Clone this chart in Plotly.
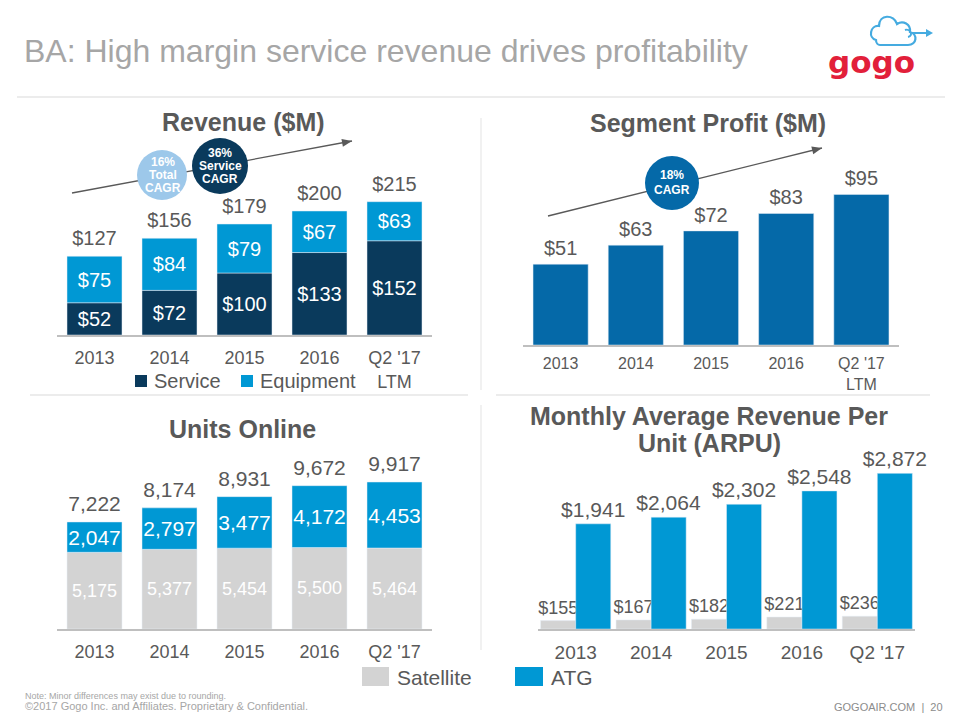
import math
import plotly.graph_objects as go

# ---------------- data ----------------
rev_years = ["2013", "2014", "2015", "2016", "Q2 '17<br>LTM"]
service_rev = [52, 72, 100, 133, 152]
equipment_rev = [75, 84, 79, 67, 63]
total_rev = [127, 156, 179, 200, 215]

seg_years = ["2013", "2014", "2015", "2016", "Q2 '17<br>LTM"]
segment_profit = [51, 63, 72, 83, 95]

unit_years = ["2013", "2014", "2015", "2016", "Q2 '17"]
satellite_units = [5175, 5377, 5454, 5500, 5464]
atg_units = [2047, 2797, 3477, 4172, 4453]
total_units = [7222, 8174, 8931, 9672, 9917]

arpu_years = ["2013", "2014", "2015", "2016", "Q2 '17"]
arpu_satellite = [155, 167, 182, 221, 236]
arpu_atg = [1941, 2064, 2302, 2548, 2872]

# ---------------- styles ----------------
FONT = "Liberation Sans, Arial, sans-serif"
GRAY_TXT = "#595959"
NAVY = "#0A3A5C"
BLUE = "#0098D4"
SEG_BLUE = "#0569A8"
SAT_GRAY = "#D3D3D3"
LIGHT_CIRCLE = "#9DC8EA"
LINE_GRAY = "#D9D9D9"

W, H = 960, 720
OFF = 8  # page body margin compensation


def px(x):
    return (x - OFF) / W


def py(y):
    return 1 - (y - OFF) / H


fig = go.Figure()

# ---------- Revenue ----------
fig.add_trace(go.Bar(x=rev_years, y=service_rev, marker_color=NAVY,
                     text=[f"${v}" for v in service_rev], textposition="inside",
                     insidetextanchor="middle", textangle=0, constraintext="none",
                     textfont=dict(color="white", size=20), xaxis="x", yaxis="y"))
fig.add_trace(go.Bar(x=rev_years, y=equipment_rev, base=service_rev, marker_color=BLUE,
                     text=[f"${v}" for v in equipment_rev], textposition="inside",
                     insidetextanchor="middle", textangle=0, constraintext="none",
                     textfont=dict(color="white", size=20), xaxis="x", yaxis="y"))
fig.add_trace(go.Scatter(x=rev_years, y=total_rev, mode="markers+text",
                         marker=dict(size=8, opacity=0),
                         text=[f"${v}" for v in total_rev], textposition="top center",
                         textfont=dict(color=GRAY_TXT, size=20), cliponaxis=False,
                         xaxis="x", yaxis="y"))

# ---------- Segment profit ----------
fig.add_trace(go.Bar(x=seg_years, y=segment_profit, marker_color=SEG_BLUE,
                     xaxis="x2", yaxis="y2"))
fig.add_trace(go.Scatter(x=seg_years, y=segment_profit, mode="markers+text",
                         marker=dict(size=5, opacity=0),
                         text=[f"${v}" for v in segment_profit], textposition="top center",
                         textfont=dict(color=GRAY_TXT, size=20), cliponaxis=False,
                         xaxis="x2", yaxis="y2"))

# ---------- Units online ----------
fig.add_trace(go.Bar(x=unit_years, y=satellite_units, marker_color=SAT_GRAY,
                     text=[f"{v:,}" for v in satellite_units], textposition="inside",
                     insidetextanchor="middle", textangle=0, constraintext="none",
                     textfont=dict(color="white", size=18), xaxis="x3", yaxis="y3"))
fig.add_trace(go.Bar(x=unit_years, y=atg_units, base=satellite_units, marker_color=BLUE,
                     text=[f"{v:,}" for v in atg_units], textposition="inside",
                     insidetextanchor="middle", textangle=0, constraintext="none",
                     textfont=dict(color="white", size=21), xaxis="x3", yaxis="y3"))
fig.add_trace(go.Scatter(x=unit_years, y=total_units, mode="markers+text",
                         marker=dict(size=7, opacity=0),
                         text=[f"{v:,}" for v in total_units], textposition="top center",
                         textfont=dict(color=GRAY_TXT, size=21), cliponaxis=False,
                         xaxis="x3", yaxis="y3"))

# ---------- ARPU ----------
bw = 0.465
fig.add_trace(go.Bar(x=arpu_years, y=arpu_satellite, marker_color=SAT_GRAY,
                     width=bw, offset=-bw,
                     text=[f"${v:,}" for v in arpu_satellite], textposition="outside",
                     textangle=0, constraintext="none", cliponaxis=False,
                     textfont=dict(color=GRAY_TXT, size=18), xaxis="x4", yaxis="y4"))
fig.add_trace(go.Bar(x=arpu_years, y=arpu_atg, marker_color=BLUE,
                     width=bw, offset=0,
                     text=[f"${v:,}" for v in arpu_atg], textposition="outside",
                     textangle=0, constraintext="none", cliponaxis=False,
                     textfont=dict(color=GRAY_TXT, size=21), xaxis="x4", yaxis="y4"))


def xax(x0, x1, size, standoff):
    return dict(domain=[px(x0), px(x1)], type="category", showgrid=False, zeroline=False,
                showline=True, linecolor="#BFBFBF", linewidth=1.5, ticks="",
                ticklabelstandoff=standoff, fixedrange=True,
                tickfont=dict(size=size, color=GRAY_TXT, family=FONT))


def yax(base_px, top_px, scale):
    return dict(domain=[py(base_px), py(top_px)], range=[0, (base_px - top_px) / scale],
                visible=False, fixedrange=True)


fig.update_layout(
    width=W, height=H, margin=dict(l=0, r=0, t=0, b=0), autosize=False,
    paper_bgcolor="white", plot_bgcolor="white", showlegend=False,
    barmode="overlay", bargap=0.2667,
    font=dict(family=FONT, color=GRAY_TXT),
    xaxis=dict(**xax(57, 432, 18, 6), anchor="y"),
    yaxis=dict(**yax(335, 150, 0.62), anchor="x"),
    xaxis2=dict(**xax(523, 899, 16, 3), anchor="y2"),
    yaxis2=dict(**yax(345, 150, 1.585), anchor="x2"),
    xaxis3=dict(**xax(57, 432, 18, 6), anchor="y3"),
    yaxis3=dict(**yax(629, 440, 0.01482), anchor="x3"),
    xaxis4=dict(**xax(538, 915, 19, 5), anchor="y4"),
    yaxis4=dict(**yax(629, 440, 0.0542), anchor="x4"),
    hovermode=False,
)

shapes = []
ann = []


def text(x, y, s, size, color=GRAY_TXT, bold=False, xanchor="center", yanchor="middle"):
    ann.append(dict(xref="paper", yref="paper", x=px(x), y=py(y), text=(f"<b>{s}</b>" if bold else s),
                    showarrow=False, xanchor=xanchor, yanchor=yanchor,
                    font=dict(size=size, color=color, family=FONT)))


def line(x0, y0, x1, y1, color=LINE_GRAY, width=1):
    shapes.append(dict(type="line", xref="paper", yref="paper", x0=px(x0), y0=py(y0),
                       x1=px(x1), y1=py(y1), line=dict(color=color, width=width)))


def rect(x0, y0, x1, y1, color):
    shapes.append(dict(type="rect", xref="paper", yref="paper", x0=px(x0), y0=py(y0),
                       x1=px(x1), y1=py(y1), line=dict(width=0), fillcolor=color))


def circle(cx, cy, r, color):
    shapes.append(dict(type="circle", xref="paper", yref="paper", x0=px(cx - r), y0=py(cy + r),
                       x1=px(cx + r), y1=py(cy - r), line=dict(width=0), fillcolor=color))


def arrow(x0, y0, x1, y1, color="#595959"):
    line(x0, y0, x1, y1, color, 1.3)
    ang = math.atan2(y1 - y0, x1 - x0)
    L, Wd = 10, 4
    bx, by = x1 - L * math.cos(ang), y1 - L * math.sin(ang)
    nx, ny = -math.sin(ang), math.cos(ang)
    pts = [(x1, y1), (bx + Wd * nx, by + Wd * ny), (bx - Wd * nx, by - Wd * ny)]
    path = "M " + " L ".join(f"{px(a)},{py(b)}" for a, b in pts) + " Z"
    shapes.append(dict(type="path", xref="paper", yref="paper", path=path,
                       fillcolor=color, line=dict(width=0)))


# header
text(22, 51, "BA: High margin service revenue drives profitability", 32, "#A6A6A6", xanchor="left")
line(17, 97, 945, 97, "#D9D9D9", 1.2)

# logo
cloud = [("M", 880, 45), ("L", 908, 45), ("C", 917, 45, 918, 34, 910, 32),
         ("C", 911, 24, 903, 20, 897, 24), ("C", 894, 14, 879, 14, 879, 26),
         ("C", 870, 25, 868, 38, 876, 40), ("C", 876, 43, 878, 45, 880, 45)]
p = ""
for seg in cloud:
    cmd, pts = seg[0], seg[1:]
    coords = " ".join(f"{px(pts[i])},{py(pts[i + 1])}" for i in range(0, len(pts), 2))
    p += f"{cmd} {coords} "
shapes.append(dict(type="path", xref="paper", yref="paper", path=p,
                   line=dict(color="#45ABE0", width=2.2)))
shapes.append(dict(type="path", xref="paper", yref="paper",
                   path=f"M {px(905)},{py(30)} C {px(910)},{py(28)} {px(914)},{py(36)} {px(908)},{py(37)} "
                        f"M {px(912)},{py(33)} L {px(928)},{py(33)}",
                   line=dict(color="#45ABE0", width=2)))
shapes.append(dict(type="path", xref="paper", yref="paper",
                   path=f"M {px(933)},{py(33)} L {px(926)},{py(29)} L {px(926)},{py(37)} Z",
                   fillcolor="#45ABE0", line=dict(width=0)))
ann.append(dict(xref="paper", yref="paper", x=px(871), y=py(62), text="<b>gogo</b>", showarrow=False,
                xanchor="center", yanchor="middle",
                font=dict(size=31, color="#E2203A", family="DejaVu Sans, sans-serif")))

# section dividers
line(481, 118, 481, 390, "#E3E3E3", 1)
line(481, 405, 481, 650, "#E3E3E3", 1)
line(30, 395, 468, 395, "#D9D9D9", 1)
line(496, 395, 930, 395, "#D9D9D9", 1)

# chart titles
text(243, 122, "Revenue ($M)", 25, GRAY_TXT, bold=True)
text(708, 123, "Segment Profit ($M)", 25, GRAY_TXT, bold=True)
text(242, 429, "Units Online", 25, GRAY_TXT, bold=True)
text(709, 416, "Monthly Average Revenue Per", 25, GRAY_TXT, bold=True)
text(709, 443, "Unit (ARPU)", 25, GRAY_TXT, bold=True)

# CAGR arrows and circles
arrow(72, 193, 352, 141)
arrow(548, 216, 822, 148)
circle(162, 175, 25, LIGHT_CIRCLE)
circle(220, 166, 28, NAVY)
circle(672, 183, 27, SEG_BLUE)
for s, y in [("16%", 162), ("Total", 175), ("CAGR", 188)]:
    text(163, y, s, 12, "white", bold=True)
for s, y in [("36%", 153), ("Service", 166), ("CAGR", 179)]:
    text(220, y, s, 12, "white", bold=True)
for s, y in [("18%", 175), ("CAGR", 190)]:
    text(672, y, s, 12, "white", bold=True)

# legends
rect(135, 375, 147, 387, NAVY)
text(152, 381, "Service", 20, GRAY_TXT, xanchor="left")
rect(241, 375, 253, 387, BLUE)
text(258, 381, "Equipment", 20, GRAY_TXT, xanchor="left")
rect(362, 667, 389, 686, SAT_GRAY)
text(395, 677, "Satellite", 21, GRAY_TXT, xanchor="left")
rect(515, 667, 543, 686, BLUE)
text(549, 677, "ATG", 21, GRAY_TXT, xanchor="left")

# footer
text(23, 696, "Note: Minor differences may exist due to rounding.", 9, "#A6A6A6", xanchor="left")
text(23, 706, "©2017 Gogo Inc. and Affiliates. Proprietary &amp; Confidential.", 11, "#A6A6A6", xanchor="left")
text(945, 707, "GOGOAIR.COM  |  20", 11, "#8C8C8C", xanchor="right")

fig.update_layout(shapes=shapes, annotations=ann)
fig.write_html("out.html")
